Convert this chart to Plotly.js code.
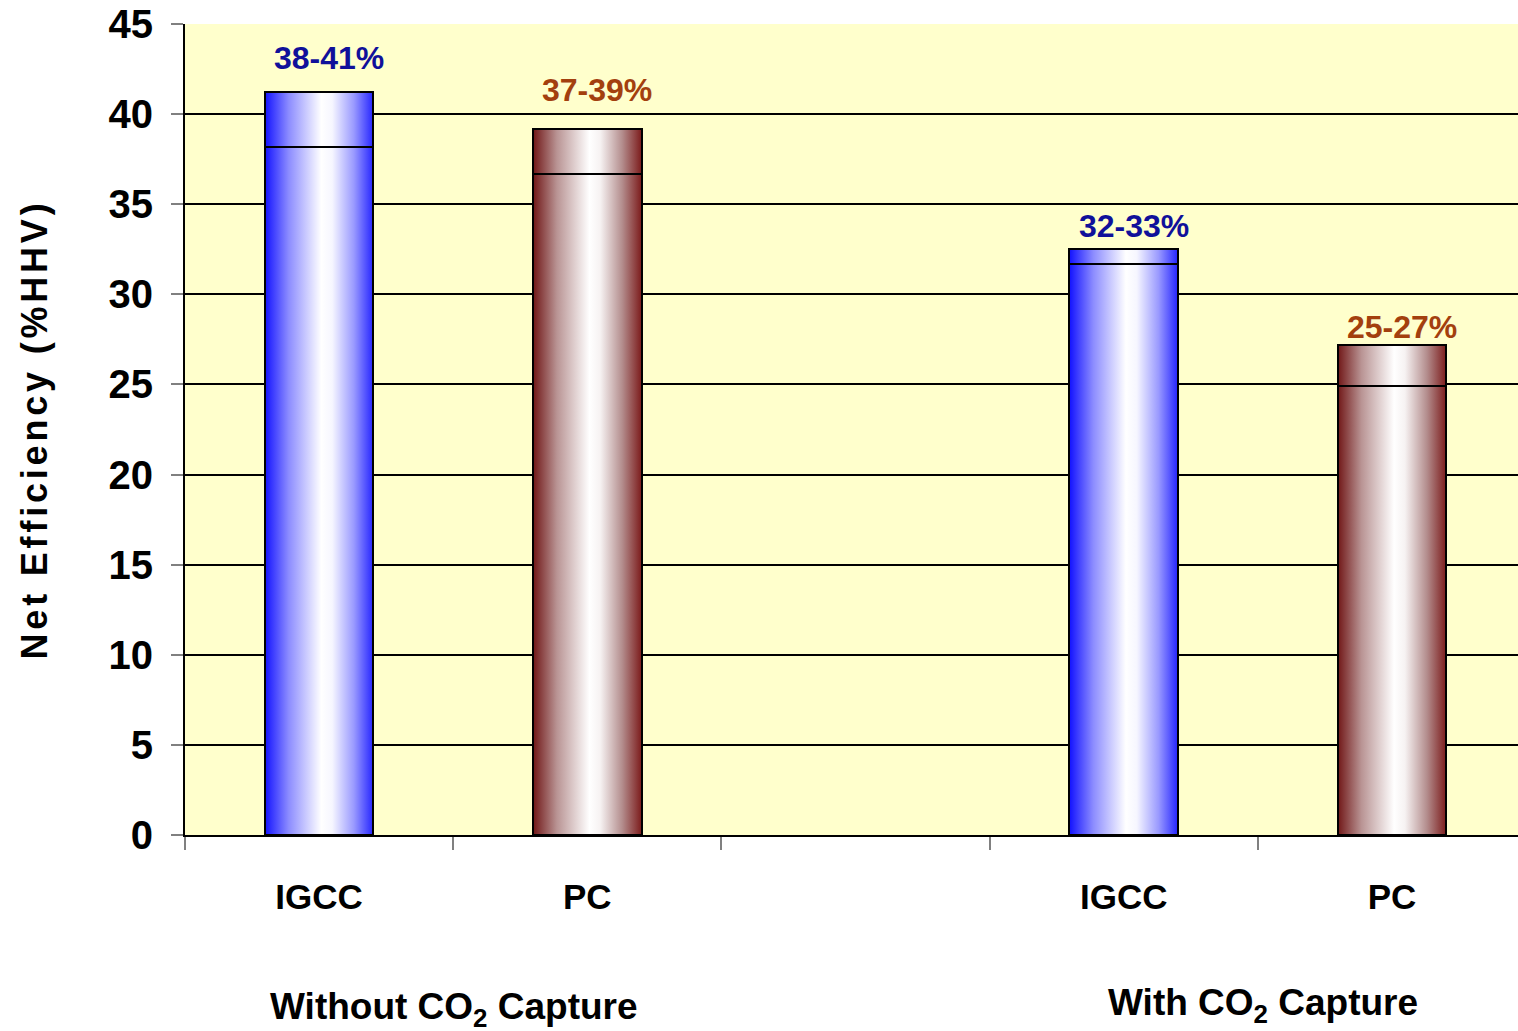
<!DOCTYPE html>
<html>
<head>
<meta charset="utf-8">
<script src="https://cdn.plot.ly/plotly-3.0.1.min.js"></script>
<style>
  html, body { margin: 0; padding: 0; background: #ffffff; }
  #chart { width: 1518px; height: 1031px; }
  #chart .ytitle { letter-spacing: 3.8px; }
</style>
</head>
<body>
<div id="chart"></div>
<script>
// Net efficiency ranges (% HHV) for coal plants, with and without CO2 capture
const slotPositions = [0, 1, 3, 4];            // slot 2 is the gap between the groups
const technologies  = ['IGCC', 'PC', 'IGCC', 'PC'];
const lowEfficiency  = [38.2, 36.7, 31.7, 24.9];
const highEfficiency = [41.2, 39.2, 32.5, 27.2];
const groupNames = ['Without CO<sub>2</sub> Capture', 'With CO<sub>2</sub> Capture'];
const groupCenters = [0.5, 3.5];
const yTicks = [0, 5, 10, 15, 20, 25, 30, 35, 40, 45];

const BLUE = '#0000ff';
const BROWN = '#7a1a1a';
const techColor = t => (t === 'IGCC' ? BLUE : BROWN);
const labelColor = t => (t === 'IGCC' ? '#10109a' : '#a3400e');

const barColors = technologies.map(techColor);
const rangeSpan = highEfficiency.map((h, i) => +(h - lowEfficiency[i]).toFixed(2));
const rangeText = lowEfficiency.map((lo, i) =>
  Math.round(lo) + '-' + Math.round(highEfficiency[i]) + '%');

const barStyle = {
  type: 'bar',
  x: slotPositions,
  width: 0.405,
  hoverinfo: 'skip',
  showlegend: false
};

const traces = [
  Object.assign({}, barStyle, {
    y: lowEfficiency,
    marker: { color: barColors, line: { color: '#000000', width: 2 } }
  }),
  Object.assign({}, barStyle, {
    y: rangeSpan,
    marker: { color: barColors, line: { color: '#000000', width: 2 } }
  })
];

const ARIAL = 'Liberation Sans, Arial, sans-serif';
const labelFont = { family: ARIAL, size: 32, weight: 'bold' };
const labelLift = [14, 19, 3, -2];

const annotations = rangeText.map((t, i) => ({
  x: slotPositions[i], y: highEfficiency[i], xref: 'x', yref: 'y',
  text: t, showarrow: false, xanchor: 'center', yanchor: 'bottom',
  xshift: 10, yshift: labelLift[i],
  font: Object.assign({}, labelFont, { color: labelColor(technologies[i]) })
})).concat(groupNames.map((g, i) => ({
  x: groupCenters[i], y: i === 0 ? -0.215 : -0.21, xref: 'x', yref: 'paper',
  text: g, showarrow: false, xanchor: 'center', yanchor: 'middle',
  xshift: i === 0 ? 1 : 5,
  font: { family: ARIAL, size: 37, weight: 'bold', color: '#000000' }
})));

const layout = {
  width: 1518,
  height: 1031,
  margin: { l: 185, r: 0, t: 24, b: 196, pad: 0 },
  paper_bgcolor: '#ffffff',
  plot_bgcolor: '#ffffcc',
  barmode: 'stack',
  bargap: 0,
  font: { family: ARIAL, color: '#000000' },
  xaxis: {
    type: 'linear',
    range: [-0.5, 4.47],
    tickmode: 'array',
    tickvals: slotPositions,
    ticktext: technologies,
    ticks: '',
    ticklabelstandoff: 30,
    tickfont: { family: ARIAL, size: 35, weight: 'bold', color: '#000000' },
    showgrid: false,
    zeroline: false,
    showline: true,
    linecolor: '#000000',
    linewidth: 2,
    minor: {
      tickmode: 'array',
      tickvals: [-0.5, 0.5, 1.5, 2.5, 3.5],
      ticks: 'outside',
      ticklen: 13,
      tickwidth: 2,
      tickcolor: '#808080',
      showgrid: false
    },
    fixedrange: true
  },
  yaxis: {
    range: [0, 45],
    tickmode: 'array',
    tickvals: yTicks,
    ticks: 'outside',
    ticklen: 12,
    tickwidth: 2,
    tickcolor: '#808080',
    ticklabelstandoff: 10,
    tickfont: { family: ARIAL, size: 40, weight: 'bold', color: '#000000' },
    showgrid: true,
    gridcolor: '#000000',
    gridwidth: 2,
    zeroline: false,
    showline: true,
    linecolor: '#000000',
    linewidth: 2,
    title: {
      text: 'Net Efficiency (%HHV)\u00a0',
      standoff: 50,
      font: { family: ARIAL, size: 36, weight: 'bold', color: '#000000' }
    },
    fixedrange: true
  },
  annotations: annotations
};

// Horizontal "cylinder" shading for the bars
function addGradients(gd) {
  const svg = gd.querySelector('svg.main-svg');
  const ns = 'http://www.w3.org/2000/svg';
  let defs = svg.querySelector('defs');
  if (!defs) { defs = document.createElementNS(ns, 'defs'); svg.insertBefore(defs, svg.firstChild); }
  const specs = {
    shadeBlue: [[0, '#1212ff'], [0.22, '#8c8cff'], [0.52, '#ffffff'], [0.62, '#f6f6ff'], [0.82, '#9a9aff'], [1, '#2424ff']],
    shadeBrown: [[0, '#701616'], [0.22, '#b99494'], [0.52, '#ffffff'], [0.62, '#f6f2f2'], [0.82, '#b48e8e'], [1, '#7c1c1c']]
  };
  Object.keys(specs).forEach(id => {
    const g = document.createElementNS(ns, 'linearGradient');
    g.setAttribute('id', id);
    g.setAttribute('x1', '0'); g.setAttribute('y1', '0');
    g.setAttribute('x2', '1'); g.setAttribute('y2', '0');
    specs[id].forEach(([o, c]) => {
      const s = document.createElementNS(ns, 'stop');
      s.setAttribute('offset', o);
      s.setAttribute('stop-color', c);
      g.appendChild(s);
    });
    defs.appendChild(g);
  });
  gd.querySelectorAll('.barlayer .point path').forEach(p => {
    const f = p.style.fill.replace(/\s/g, '');
    p.style.fill = (f === 'rgb(0,0,255)') ? 'url(#shadeBlue)' : 'url(#shadeBrown)';
    p.style.fillOpacity = 1;
  });
}

Plotly.newPlot('chart', traces, layout, { staticPlot: true, displayModeBar: false })
  .then(addGradients);
</script>
</body>
</html>
